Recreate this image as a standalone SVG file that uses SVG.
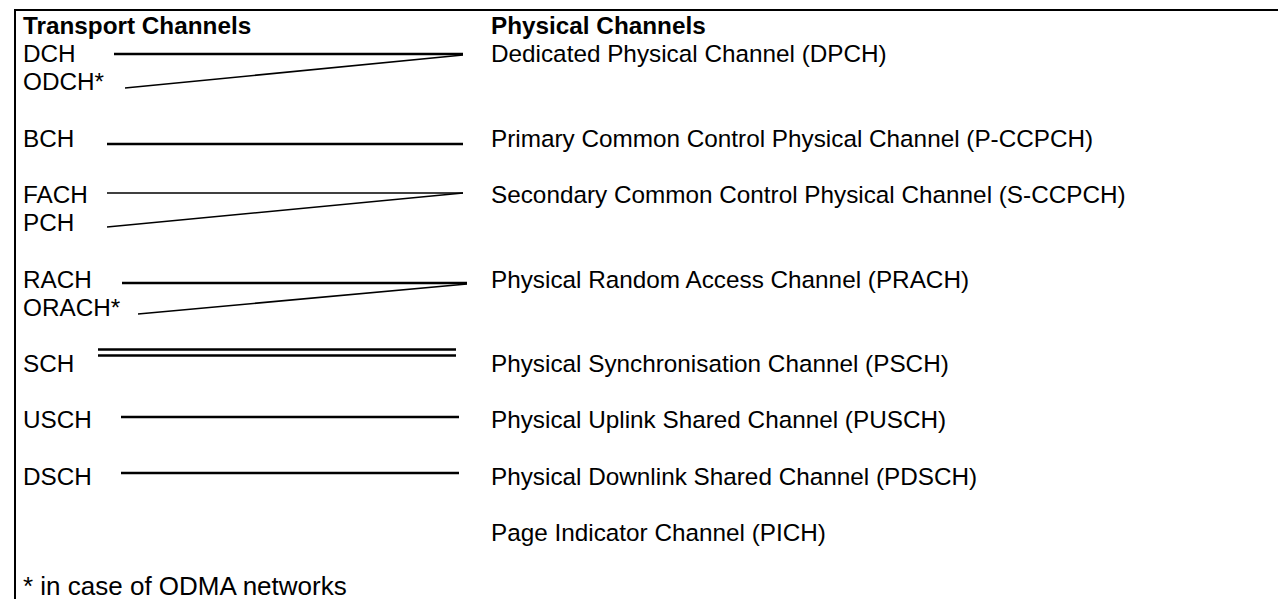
<svg xmlns="http://www.w3.org/2000/svg" width="1278" height="599" viewBox="0 0 1278 599">
<style>
text{font-family:"Liberation Sans",Arial,sans-serif;font-size:24.3px;fill:#000}
.h{font-weight:bold}
.note{font-size:26px}
.thick{stroke:#000;stroke-width:2.6;fill:none}
.thin{stroke:#000;stroke-width:1.6;fill:none}
.frame{stroke:#000;stroke-width:2;fill:none}
</style>
<rect width="1278" height="599" fill="#fff"/>
<path class="frame" d="M1278,10 H15 V599"/>
<g id="transport">
<text class="h" x="23" y="34">Transport Channels</text>
<text x="23" y="62">DCH</text>
<text x="23" y="90">ODCH*</text>
<text x="23" y="147">BCH</text>
<text x="23" y="203">FACH</text>
<text x="23" y="231">PCH</text>
<text x="23" y="288">RACH</text>
<text x="23" y="316">ORACH*</text>
<text x="23" y="372">SCH</text>
<text x="23" y="428">USCH</text>
<text x="23" y="485">DSCH</text>
<text class="note" x="23" y="595">* in case of ODMA networks</text>
</g>
<g id="physical">
<text class="h" x="491" y="34">Physical Channels</text>
<text x="491" y="62">Dedicated Physical Channel (DPCH)</text>
<text x="491" y="147">Primary Common Control Physical Channel (P-CCPCH)</text>
<text x="491" y="203">Secondary Common Control Physical Channel (S-CCPCH)</text>
<text x="491" y="288">Physical Random Access Channel (PRACH)</text>
<text x="491" y="372">Physical Synchronisation Channel (PSCH)</text>
<text x="491" y="428">Physical Uplink Shared Channel (PUSCH)</text>
<text x="491" y="485">Physical Downlink Shared Channel (PDSCH)</text>
<text x="491" y="541">Page Indicator Channel (PICH)</text>
</g>
<g id="connectors">
<line class="thick" x1="114" y1="54" x2="463" y2="54"/>
<line class="thin" x1="125" y1="88" x2="463" y2="55"/>
<line class="thick" x1="107" y1="144" x2="463" y2="144"/>
<line class="thin" x1="107" y1="193" x2="463" y2="193"/>
<line class="thin" x1="107" y1="227" x2="463" y2="193"/>
<line class="thick" x1="122" y1="283" x2="467" y2="283"/>
<line class="thin" x1="138" y1="314" x2="467" y2="284"/>
<line class="thick" x1="98" y1="349.5" x2="456" y2="349.5"/>
<line class="thick" x1="98" y1="355.5" x2="456" y2="355.5"/>
<line class="thick" x1="121" y1="417" x2="459" y2="417"/>
<line class="thick" x1="121" y1="473" x2="459" y2="473"/>
</g>
</svg>
